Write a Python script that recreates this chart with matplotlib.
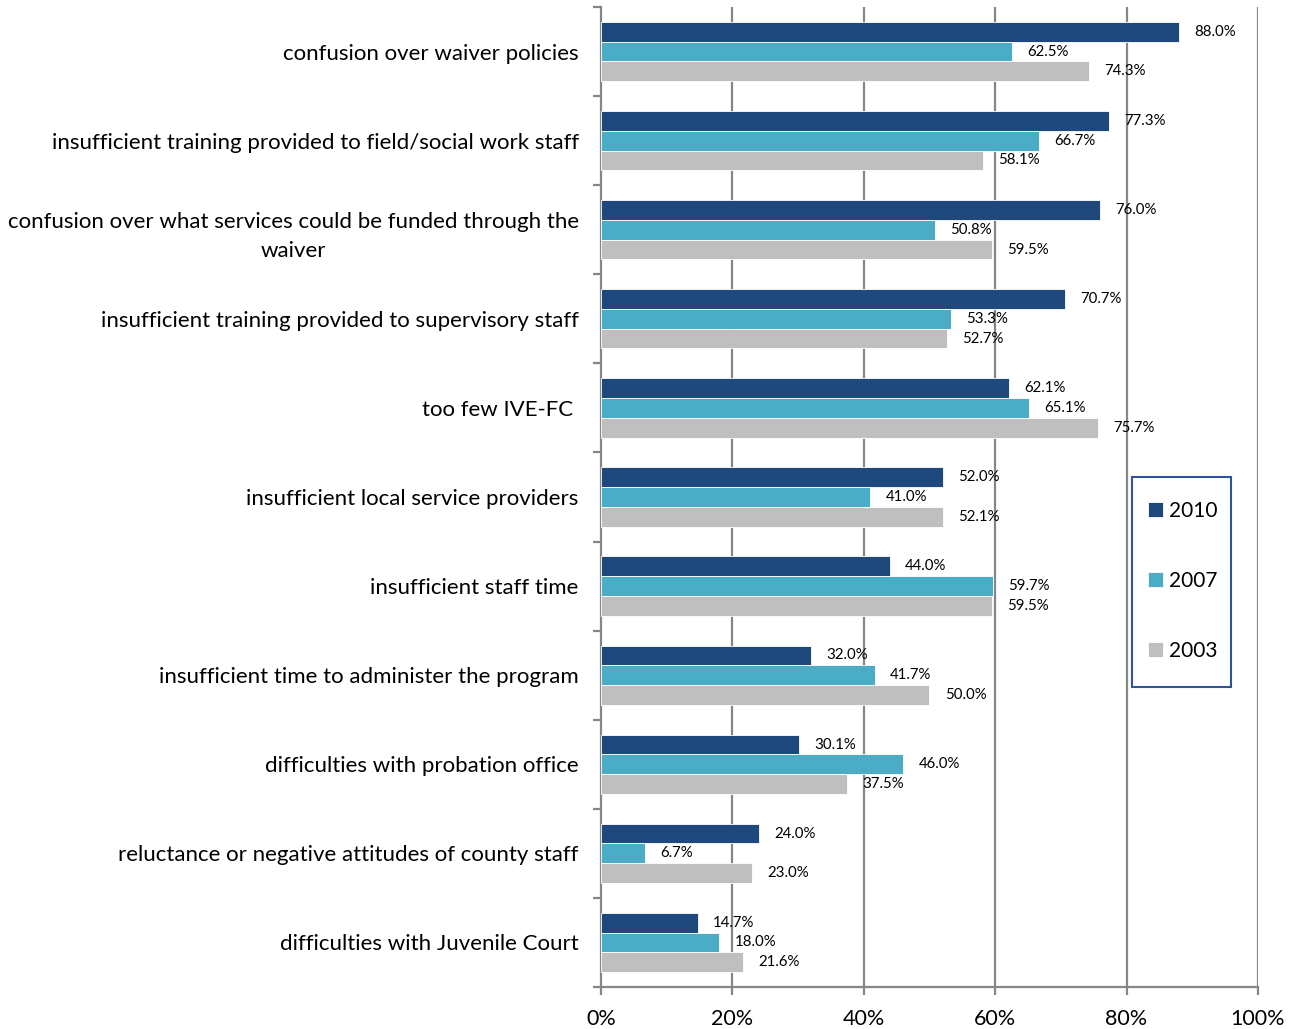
import numpy as np
import matplotlib.pyplot as plt
from matplotlib.patches import Rectangle
from matplotlib.ticker import FixedLocator, PercentFormatter

# Survey categories, top to bottom
categories = [
    "confusion over waiver policies",
    "insufficient training provided to field/social work staff",
    "confusion over what services could be funded through the\nwaiver",
    "insufficient training provided to supervisory staff",
    "too few IVE-FC ",
    "insufficient local service providers",
    "insufficient staff time",
    "insufficient time to administer the program",
    "difficulties with probation office",
    "reluctance or negative attitudes of county staff",
    "difficulties with Juvenile Court",
]

years = ["2010", "2007", "2003"]
values_2010 = [88.0, 77.3, 76.0, 70.7, 62.1, 52.0, 44.0, 32.0, 30.1, 24.0, 14.7]
values_2007 = [62.5, 66.7, 50.8, 53.3, 65.1, 41.0, 59.7, 41.7, 46.0, 6.7, 18.0]
values_2003 = [74.3, 58.1, 59.5, 52.7, 75.7, 52.1, 59.5, 50.0, 37.5, 23.0, 21.6]

colors = ["#1F497D", "#4BACC6", "#BFBFBF"]
grid_grey = "#868686"

plt.rcParams['font.family'] = ['Lato', 'DejaVu Sans']

fig = plt.figure(figsize=(13.03, 10.29), dpi=100)
ax = fig.add_axes([0.4612, 0.0408, 0.5042, 0.9524])

y = np.arange(len(categories))
bar_h = 0.222
offsets = [-bar_h, 0.0, bar_h]
series = [values_2010, values_2007, values_2003]

for vals, off, col, year in zip(series, offsets, colors, years):
    bars = ax.barh(y + off, vals, height=bar_h, color=col, edgecolor="white",
                   linewidth=0.6, label=year, zorder=3)
    for rect, v in zip(bars, vals):
        ax.annotate(f"{v:.1f}%", xy=(v, rect.get_y() + rect.get_height() / 2),
                    xytext=(11, 0), textcoords="offset points",
                    ha="left", va="center", fontsize=10.8, color="black", zorder=4)

ax.set_xlim(0, 100)
ax.set_ylim(len(categories) - 0.5, -0.5)

# Vertical gridlines
for gx in [20, 40, 60, 80, 100]:
    ax.axvline(gx, color=grid_grey, linewidth=1.6, zorder=1)

# Spines
for s in ["top", "right"]:
    ax.spines[s].set_visible(False)
for s in ["left", "bottom"]:
    ax.spines[s].set_color(grid_grey)
    ax.spines[s].set_linewidth(1.6)

ax.set_xticks([0, 20, 40, 60, 80, 100])
ax.xaxis.set_major_formatter(PercentFormatter(decimals=0))
ax.tick_params(axis="x", direction="out", length=6, width=1.6, color=grid_grey,
               labelsize=15.5, pad=10)

ax.set_yticks(y)
ax.set_yticklabels(categories, multialignment="center", linespacing=1.55)
ax.yaxis.set_minor_locator(FixedLocator(np.arange(-0.5, len(categories), 1.0)))
ax.tick_params(axis="y", which="major", length=0, labelsize=16, pad=16)
ax.tick_params(axis="y", which="minor", direction="out", length=6, width=1.6,
               color=grid_grey)

# Legend: frameless entries inside a hand-drawn box
leg = ax.legend(loc="center left", bbox_to_anchor=(0.8326, 0.4143), fontsize=15,
                frameon=False, handlelength=0.7, handleheight=0.7,
                labelspacing=2.4, borderpad=0, handletextpad=0.3,
                borderaxespad=0)
leg.set_zorder(6)
ax.add_patch(Rectangle((0.808, 0.3061), 0.151, 0.2143, transform=ax.transAxes,
                       facecolor="white", edgecolor="#2F5597", linewidth=1.5,
                       zorder=5, clip_on=False))

fig.savefig("out.png", dpi=100)
